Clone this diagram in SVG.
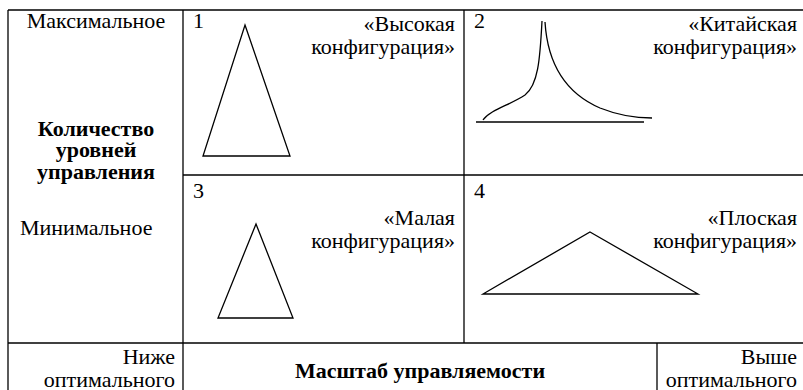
<svg xmlns="http://www.w3.org/2000/svg" width="803" height="390" viewBox="0 0 803 390" font-family="Liberation Serif, DejaVu Serif, serif">
<style>
.ln{stroke:#000;stroke-width:1.3;fill:none}
.sh{stroke:#000;stroke-width:1.3;fill:none;stroke-linejoin:miter}
.t{font-size:22px;fill:#000}
.b{font-weight:bold}
.r{text-anchor:end}
.c{text-anchor:middle}
</style>
<rect width="803" height="390" fill="#fff"/>
<g id="grid">
<line class="ln" x1="8" y1="10" x2="803" y2="10"/>
<line class="ln" x1="8" y1="10" x2="8" y2="390"/>
<line class="ln" x1="183" y1="10" x2="183" y2="390"/>
<line class="ln" x1="464" y1="10" x2="464" y2="343"/>
<line class="ln" x1="183" y1="175" x2="803" y2="175"/>
<line class="ln" x1="8" y1="343" x2="803" y2="343"/>
<line class="ln" x1="657" y1="343" x2="657" y2="390"/>
</g>
<g id="axis-y" class="t">
<text x="96" y="28" class="c">Максимальное</text>
<text x="96" y="136" class="c b">Количество</text>
<text x="96" y="157" class="c b">уровней</text>
<text x="96" y="179" class="c b">управления</text>
<text x="20" y="235">Минимальное</text>
</g>
<g id="cell1" class="t">
<text x="193" y="28">1</text>
<text x="455" y="31" class="r">«Высокая</text>
<text x="455" y="54" class="r">конфигурация»</text>
<polygon class="sh" points="245,25 290,156 203,156"/>
</g>
<g id="cell2" class="t">
<text x="474" y="28">2</text>
<text x="797" y="31" class="r">«Китайская</text>
<text x="797" y="54" class="r">конфигурация»</text>
<path class="sh" d="M483,120 C490,110 510,105 525,95 C538,85 540,60 542,21"/>
<path class="sh" d="M545,22 C548,70 570,95 600,108 C620,116 640,118 652,118"/>
<line class="ln" x1="476" y1="122" x2="644" y2="122"/>
</g>
<g id="cell3" class="t">
<text x="193" y="198">3</text>
<text x="455" y="225" class="r">«Малая</text>
<text x="455" y="248" class="r">конфигурация»</text>
<polygon class="sh" points="256,224 293,318 218,318"/>
</g>
<g id="cell4" class="t">
<text x="474" y="198">4</text>
<text x="797" y="225" class="r">«Плоская</text>
<text x="797" y="248" class="r">конфигурация»</text>
<polygon class="sh" points="590,232 698,294 483,294"/>
</g>
<g id="axis-x" class="t">
<text x="175" y="364" class="r">Ниже</text>
<text x="175" y="387" class="r">оптимального</text>
<text x="420" y="378" class="c b">Масштаб управляемости</text>
<text x="797" y="364" class="r">Выше</text>
<text x="797" y="387" class="r">оптимального</text>
</g>
</svg>
